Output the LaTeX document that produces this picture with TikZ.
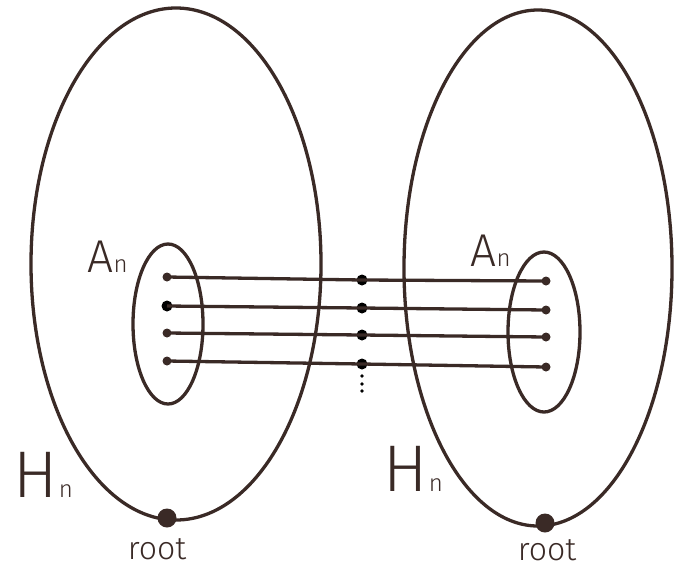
\documentclass[tikz,border=0pt]{standalone}
\usepackage{fontspec}
\setmainfont{Fira Sans Light}
\definecolor{ink}{HTML}{3A2A26}
\begin{document}
\begin{tikzpicture}[x=1pt,y=-1pt,
  curve/.style={draw=ink,line width=3.3pt},
  edge/.style={draw=ink,line width=3.3pt},
  enddot/.style={circle,fill=ink,inner sep=0pt,minimum size=9pt},
  bigdot/.style={circle,fill=black,inner sep=0pt,minimum size=11pt},
  rootdot/.style={circle,fill=ink,inner sep=0pt,minimum size=19pt},
  vdot/.style={circle,fill=black,inner sep=0pt,minimum size=3.8pt},
  lbl/.style={text=ink,inner sep=0pt,font=\fontsize{46}{46}\selectfont},
  biglbl/.style={text=ink,inner sep=0pt,font=\fontsize{66}{66}\selectfont},
  sub/.style={text=ink,inner sep=0pt,font=\fontsize{24}{24}\selectfont},
  rootlbl/.style={text=ink,inner sep=0pt,font=\fontsize{32}{32}\selectfont}]
\useasboundingbox (0,0) rectangle (684,568);
% big ellipses
\draw[curve] (176,264) ellipse [x radius=145, y radius=256];
\draw[curve] (538,268) ellipse [x radius=134, y radius=258];
% small ellipses
\draw[curve] (168,324) ellipse [x radius=35, y radius=80];
\draw[curve] (544,332) ellipse [x radius=36, y radius=80];
% endpoints
\node[enddot] (l1) at (167,277) {};
\node[bigdot] (l2) at (167,306) {};
\node[enddot] (l3) at (167,333) {};
\node[enddot] (l4) at (167,361) {};
\node[bigdot] (m1) at (362,280) {};
\node[bigdot] (m2) at (362,308) {};
\node[bigdot] (m3) at (362,335) {};
\node[bigdot] (m4) at (362,364) {};
\node[enddot] (r1) at (546,281) {};
\node[enddot] (r2) at (546,310) {};
\node[enddot] (r3) at (546,337) {};
\node[enddot] (r4) at (546,367) {};
\foreach \i in {1,2,3,4}{
  \draw[edge] (l\i.center) -- (m\i.center) -- (r\i.center);
}
\node[vdot] (v1) at (362,376) {};
\node[vdot] (v2) at (362,384) {};
\node[vdot] (v3) at (362,391) {};
% roots
\node[rootdot] (rootL) at (167,518) {};
\node[rootdot] (rootR) at (545,523) {};
\node[rootlbl] (rtL) at (157,549) {root};
\node[rootlbl] (rtR) at (547,550) {root};
% labels
\node[lbl,anchor=base west] (AL) at (87,272) {A};
\node[sub,anchor=base west] (ALn) at (AL.base east) {n};
\node[lbl,anchor=base west] (AR) at (470,266) {A};
\node[sub,anchor=base west] (ARn) at (AR.base east) {n};
\node[biglbl,anchor=base west] (HL) at (13,497) {H};
\node[sub,anchor=base west] (HLn) at ([xshift=1pt]HL.base east) {n};
\node[biglbl,anchor=base west] (HR) at (383,491) {H};
\node[sub,anchor=base west] (HRn) at ([xshift=1pt]HR.base east) {n};
\end{tikzpicture}
\end{document}
